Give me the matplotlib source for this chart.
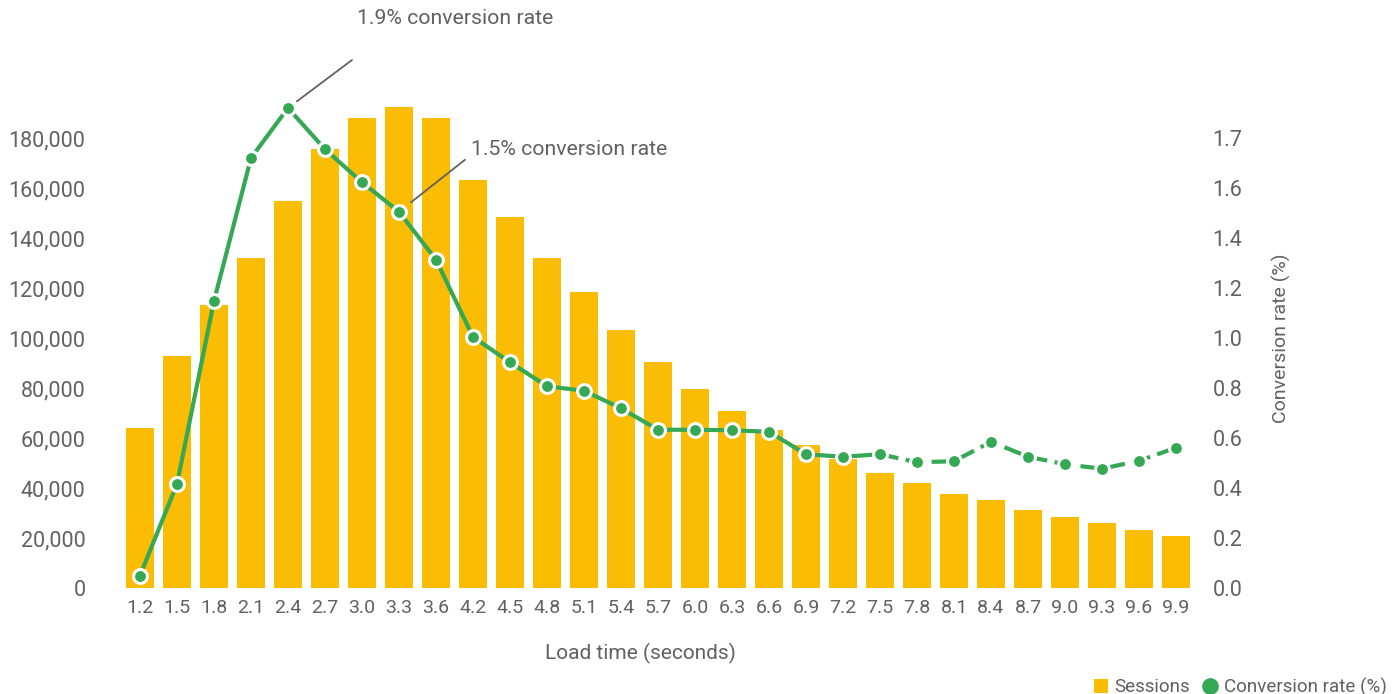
import matplotlib
matplotlib.use('Agg')
import matplotlib.pyplot as plt
from matplotlib.lines import Line2D
from matplotlib.patches import Patch

plt.rcParams['font.family'] = ['Roboto', 'DejaVu Sans']

load_times = ['1.2', '1.5', '1.8', '2.1', '2.4', '2.7', '3.0', '3.3', '3.6', '4.2',
              '4.5', '4.8', '5.1', '5.4', '5.7', '6.0', '6.3', '6.6', '6.9', '7.2',
              '7.5', '7.8', '8.1', '8.4', '8.7', '9.0', '9.3', '9.6', '9.9']
sessions = [64000, 93000, 113200, 132000, 155000, 175600, 188000, 192500, 188000, 163200,
            148400, 132000, 118400, 103200, 90400, 79600, 70800, 63200, 57200, 51600,
            46000, 42000, 37600, 35200, 31200, 28400, 26000, 23200, 20800]
conversion = [0.05, 0.416, 1.148, 1.72, 1.92, 1.755, 1.623, 1.505, 1.313, 1.004,
              0.903, 0.807, 0.789, 0.719, 0.633, 0.633, 0.631, 0.625, 0.535, 0.525,
              0.535, 0.503, 0.507, 0.585, 0.525, 0.495, 0.477, 0.509, 0.561]
left_ticks = [0, 20000, 40000, 60000, 80000, 100000, 120000, 140000, 160000, 180000]
right_ticks = [0.0, 0.2, 0.4, 0.6, 0.8, 1.0, 1.2, 1.4, 1.6, 1.8]
right_labels = ['0.0', '0.2', '0.4', '0.6', '0.8', '1.0', '1.2', '1.4', '1.6', '1.7']

YELLOW = '#FBBC04'
GREEN = '#34A853'
GREY = '#616161'
dash_from = 20  # line turns dashed after 7.5 s

fig = plt.figure(figsize=(13.94, 6.94), dpi=100)
ax = fig.add_axes([121.5 / 1394, 106 / 694, 1073 / 1394, 500 / 694])
ax2 = ax.twinx()

x = list(range(len(load_times)))
ax.bar(x, sessions, width=0.755, color=YELLOW, zorder=1)
ax.set_xlim(-0.5, len(x) - 0.5)
ax.set_ylim(0, 200000)
ax.set_yticks(left_ticks, [f'{v:,}' for v in left_ticks])
ax.set_xticks(x, load_times)
ax.tick_params(axis='y', length=0, pad=26, labelsize=15.5, labelcolor=GREY)
ax.tick_params(axis='x', length=0, pad=8, labelsize=14, labelcolor=GREY)

ax2.set_ylim(0, 2.0)
ax2.set_yticks(right_ticks, right_labels)
ax2.tick_params(axis='y', length=0, pad=13, labelsize=15.5, labelcolor=GREY)
ax2.set_ylabel('Conversion rate (%)', fontsize=14, color=GREY, labelpad=21)

for a in (ax, ax2):
    for s in a.spines.values():
        s.set_visible(False)

ax2.plot(x[:dash_from + 1], conversion[:dash_from + 1], color=GREEN, lw=3, zorder=2)
ax2.plot(x[dash_from:], conversion[dash_from:], color=GREEN, lw=3, dashes=(4.5, 1.8), zorder=2)
ax2.plot(x, conversion, ls='none', marker='o', ms=10, mfc=GREEN, mec='white', mew=2.2, zorder=3)

# annotations
peak = 4
ax2.annotate('', xy=(peak, conversion[peak]), xytext=(64, 48), textcoords='offset pixels',
             arrowprops=dict(arrowstyle='-', color=GREY, lw=1.3, shrinkA=0, shrinkB=8))
ax2.annotate('1.9% conversion rate', xy=(peak, conversion[peak]), xytext=(69, 90),
             textcoords='offset pixels', ha='left', va='center', fontsize=15.3, color=GREY)
mid = 7
ax2.annotate('', xy=(mid, conversion[mid]), xytext=(66, 52), textcoords='offset pixels',
             arrowprops=dict(arrowstyle='-', color=GREY, lw=1.3, shrinkA=0, shrinkB=11))
ax2.annotate('1.5% conversion rate', xy=(mid, conversion[mid]), xytext=(72, 62),
             textcoords='offset pixels', ha='left', va='center', fontsize=15.3, color=GREY)

fig.text(640 / 1394, 1 - 653 / 694, 'Load time (seconds)', ha='center', va='center',
         fontsize=15, color=GREY)

handles = [Patch(facecolor=YELLOW, edgecolor='none'),
           Line2D([], [], ls='none', marker='o', ms=11, mfc=GREEN, mec=GREEN)]
fig.legend(handles, ['Sessions', 'Conversion rate (%)'], loc='lower right',
           bbox_to_anchor=(1.003, -0.02), ncol=2, frameon=False, fontsize=13.5,
           labelcolor=GREY, handlelength=0.75, handleheight=0.75, handletextpad=0.35,
           columnspacing=0.7, borderaxespad=0.2)

fig.savefig('out.png', dpi=100)
